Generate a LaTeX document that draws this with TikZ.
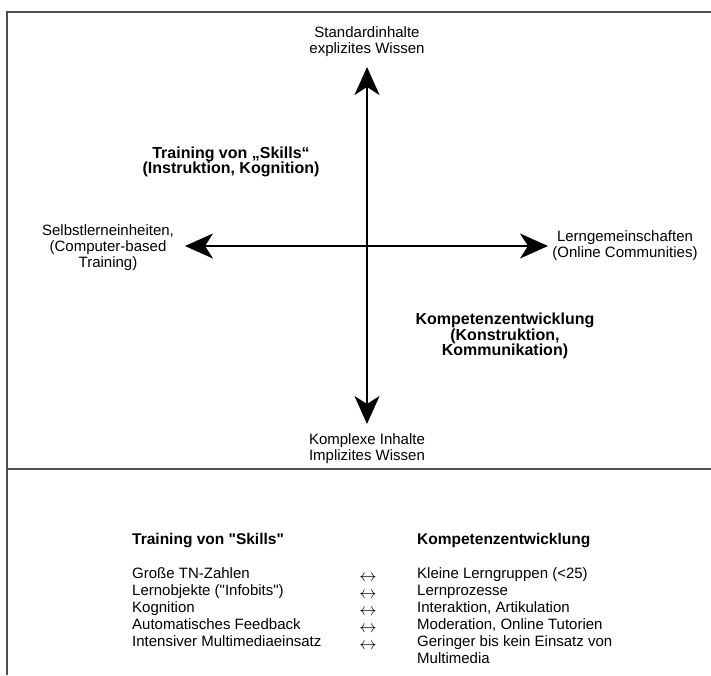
\documentclass[tikz,border=0pt]{standalone}
\usepackage{fontspec}
\setmainfont{Liberation Sans}
\usetikzlibrary{arrows.meta}
\definecolor{framegray}{HTML}{505050}
\tikzset{
  lbl/.style={font=\fontsize{15}{16}\selectfont, inner sep=0pt, align=center},
  boldlbl/.style={lbl, font=\fontsize{16}{15.5}\selectfont\bfseries},
  axis/.style={line width=1.6pt,
    {Stealth[length=28pt,width=25pt,inset=8pt]}-{Stealth[length=28pt,width=25pt,inset=8pt]}},
  rulerline/.style={framegray, line width=1.3pt},
  cell/.style={font=\fontsize{15}{17}\selectfont, inner sep=0pt, anchor=base west, align=left},
  headcell/.style={cell, font=\fontsize{15.5}{17}\selectfont\bfseries},
  pairarrow/.style={font=\fontsize{18}{17}\selectfont, inner sep=0pt, anchor=base}
}
\begin{document}
\begin{tikzpicture}[x=1pt,y=-1pt]
\useasboundingbox (0,0) rectangle (711,675);
\draw[rulerline] (711,12) -- (7,12) -- (7,675);
\draw[rulerline] (7,469) -- (711,469);

\coordinate (ntip) at (367,67);
\coordinate (stip) at (367,424);
\coordinate (wtip) at (185,246);
\coordinate (etip) at (548,246);
\draw[axis] (ntip) -- (stip);
\draw[axis] (wtip) -- (etip);

\node[lbl] (std) at (367,42) {Standardinhalte\\explizites Wissen};
\node[lbl] (kompl) at (367,449) {Komplexe Inhalte\\Implizites Wissen};
\node[lbl] (selbst) at (108,248) {Selbstlerneinheiten,\\(Computer-based\\Training)};
\node[lbl] (lerngem) at (625,246) {Lerngemeinschaften\\(Online Communities)};
\node[boldlbl] (skills) at (231,162) {Training von „Skills“\\(Instruktion, Kognition)};
\node[boldlbl] (kompet) at (505,336) {Kompetenzentwicklung\\(Konstruktion,\\Kommunikation)};

\node[headcell] (headl) at (132,544) {Training von \textquotedbl Skills\textquotedbl};
\node[headcell] (headr) at (417,544) {Kompetenzentwicklung};
\foreach \l/\r [count=\i] in {Große TN-Zahlen/Kleine Lerngruppen (<25),
    Lernobjekte (\textquotedbl Infobits\textquotedbl)/Lernprozesse,
    Kognition/{Interaktion, Artikulation},
    Automatisches Feedback/{Moderation, Online Tutorien},
    Intensiver Multimediaeinsatz/Geringer bis kein Einsatz von}{
  \node[cell] (left\i) at (132,561+17*\i) {\l};
  \node[pairarrow] (pair\i) at (368,564+17*\i) {$\leftrightarrow$};
  \node[cell] (right\i) at (417,561+17*\i) {\r};}
\node[cell] (right6) at (417,663) {Multimedia};
\end{tikzpicture}
\end{document}
